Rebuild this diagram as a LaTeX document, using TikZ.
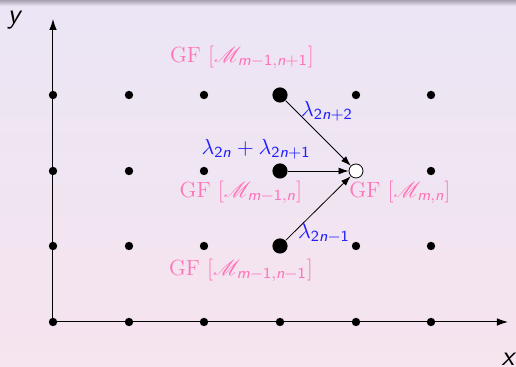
\documentclass[tikz,border=0pt]{standalone}
\usepackage{amsmath,mathrsfs}
\usetikzlibrary{arrows.meta}
\definecolor{gfpink}{HTML}{FF73B9}
\definecolor{lamblue}{HTML}{1F1FFF}
\definecolor{bgtop}{HTML}{EBE5F5}
\definecolor{bgbot}{HTML}{F6E4EE}
\definecolor{bgshade}{HTML}{A8A0B0}
\newcommand\sfn{\text{\sffamily\slshape n}}
\newcommand\sfm{\text{\sffamily\slshape m}}
\newcommand\sfd[1]{\text{\sffamily #1}}
\tikzset{
  dot/.style={circle,fill=black,inner sep=0pt,minimum size=4.2pt},
  bigdot/.style={circle,fill=black,inner sep=0pt,minimum size=7.6pt},
  opendot/.style={circle,draw=black,line width=0.4pt,fill=white,inner sep=0pt,minimum size=7pt},
  gflabel/.style={text=gfpink,font=\fontsize{11}{13}\selectfont,inner sep=0pt},
  lamlabel/.style={text=lamblue,font=\fontsize{11}{13}\selectfont,inner sep=0pt},
  axlabel/.style={font=\fontsize{14}{16}\selectfont\sffamily\slshape,inner sep=0pt,anchor=base},
  axis/.style={line width=0.5pt,-{Latex[length=5.5pt,width=3.8pt]}},
  flow/.style={line width=0.4pt,-{Latex[length=5pt,width=3.4pt]}},
}
\begin{document}
\begin{tikzpicture}[x=0.5pt,y=-0.5pt]
\useasboundingbox (0,0) rectangle (516,367);
\shade[top color=bgtop,bottom color=bgbot] (0,0) rectangle (516,367);
\shade[top color=bgshade,bottom color=bgtop] (0,0) rectangle (516,6);
% axes
\coordinate (o) at (53,322);
\coordinate (yend) at (53,19);
\coordinate (xend) at (508,322);
\draw[axis] (o) -- (yend);
\draw[axis] (o) -- (xend);
% grid dots
\foreach \i/\x in {0/53,1/129,2/204,3/280,4/356,5/431}{
  \foreach \j/\y in {0/322,1/246,2/171,3/95}{
    \node[dot] (d-\i-\j) at (\x,\y) {};
  }
}
\node[bigdot] (a) at (280,95) {};
\node[bigdot] (b) at (280,171) {};
\node[bigdot] (c) at (280,246) {};
\node[opendot] (t) at (356,171) {};
\draw[flow] (a) -- (t);
\draw[flow] (b) -- (t);
\draw[flow] (c) -- (t);
% labels
\node[axlabel] (ly) at (14,24) {y};
\node[axlabel] (lx) at (508,366) {x};
\node[gflabel] (g1) at (242,57) {GF $[\mathscr{M}_{\sfm-\sfd{1},\sfn+\sfd{1}}]$};
\node[gflabel] (g2) at (241,192) {GF $[\mathscr{M}_{\sfm-\sfd{1},\sfn}]$};
\node[gflabel] (g3) at (400,192) {GF $[\mathscr{M}_{\sfm,\sfn}]$};
\node[gflabel] (g4) at (241,270) {GF $[\mathscr{M}_{\sfm-\sfd{1},\sfn-\sfd{1}}]$};
\node[lamlabel] (l1) at (327,111) {$\lambda_{\sfd{2}\sfn+\sfd{2}}$};
\node[lamlabel] (l2) at (256,149) {$\lambda_{\sfd{2}\sfn}+\lambda_{\sfd{2}\sfn+\sfd{1}}$};
\node[lamlabel] (l3) at (324,233) {$\lambda_{\sfd{2}\sfn-\sfd{1}}$};
\end{tikzpicture}
\end{document}
